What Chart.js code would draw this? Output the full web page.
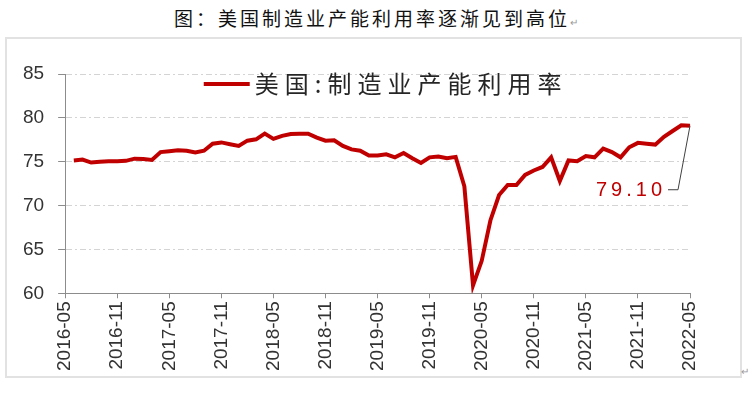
<!DOCTYPE html>
<html>
<head>
<meta charset="utf-8">
<script src="https://cdn.jsdelivr.net/npm/chart.js@4"></script>
<style>
  html, body { margin: 0; padding: 0; background: #fff; }
  body { width: 752px; height: 396px; position: relative; overflow: hidden; }
  #title { position: absolute; left: 0; top: 5px; width: 752px; text-align: center;
           font-family: "Noto Sans CJK SC"; font-size: 19px; letter-spacing: 3px; color: #111; line-height: 26px; }
  .ret { font-size: 10px; color: #999; letter-spacing: 0; }
  #frame { position: absolute; left: 5px; top: 37px; width: 733px; height: 337px; border: 2px solid #e2e2e2; }
  #ret2 { position: absolute; left: 741px; top: 366px; }
  #wrap { position: absolute; left: 0; top: 0; width: 752px; height: 396px; }
</style>
</head>
<body>
<div id="title">图：美国制造业产能利用率逐渐见到高位<span class="ret">↵</span></div>
<div id="frame"></div>
<span id="ret2" class="ret">↵</span>
<div id="wrap"><canvas id="chart" width="752" height="396"></canvas></div>
<script>
// monthly axis runs 2016-05 .. 2022-05, data starts 2016-06
const firstMonth = [2016, 5];
const lastMonth = [2022, 5];
const seriesName = '美国:制造业产能利用率';
// 2016-06 .. 2022-05
const utilization = [
  75.15, 75.25, 74.9, 75.0, 75.05, 75.05, 75.1, 75.35, 75.3, 75.2, 76.1, 76.2,
  76.3, 76.25, 76.05, 76.25, 77.05, 77.2, 77.0, 76.8, 77.4, 77.55, 78.2, 77.6,
  77.95, 78.15, 78.2, 78.2, 77.75, 77.4, 77.45, 76.8, 76.4, 76.25, 75.7, 75.7,
  75.85, 75.5, 76.0, 75.4, 74.85, 75.5, 75.6, 75.4, 75.55, 72.2, 60.9, 63.7,
  68.3, 71.2, 72.35, 72.35, 73.5, 74.0, 74.4, 75.5, 72.8, 75.15, 75.05, 75.65,
  75.5, 76.5, 76.1, 75.5, 76.65, 77.15, 77.05, 76.95, 77.85, 78.5, 79.15, 79.1
];
const yTicks = [60, 65, 70, 75, 80, 85];
const labelEvery = 6;

const months = [];
for (let y = firstMonth[0], m = firstMonth[1]; y < lastMonth[0] || (y === lastMonth[0] && m <= lastMonth[1]); ) {
  months.push(y + '-' + String(m).padStart(2, '0'));
  m++;
  if (m > 12) { m = 1; y++; }
}
const values = [null].concat(utilization);

const axisGray = '#8c8c8c';
const red = '#C00000';

// legend inside the plot + value callout on the last point
const overlay = {
  id: 'overlay',
  afterDatasetsDraw(chart) {
    const { ctx, chartArea } = chart;
    const ds = chart.data.datasets[0];
    ctx.save();

    ctx.font = '24px "Noto Sans CJK SC"';
    ctx.letterSpacing = '6px';
    const tw = ctx.measureText(ds.label).width;
    const total = 46 + 5 + tw;
    const x0 = (chartArea.left + chartArea.right) / 2 - total / 2 + 8;
    const y0 = chartArea.top + 10;
    ctx.strokeStyle = ds.borderColor;
    ctx.lineWidth = 4;
    ctx.beginPath();
    ctx.moveTo(x0, y0);
    ctx.lineTo(x0 + 46, y0);
    ctx.stroke();
    ctx.fillStyle = '#262626';
    ctx.textBaseline = 'middle';
    ctx.textAlign = 'left';
    ctx.fillText(ds.label, x0 + 51, y0);

    const meta = chart.getDatasetMeta(0);
    const pt = meta.data[meta.data.length - 1];
    const v = ds.data[ds.data.length - 1];
    const ly = pt.y + 64;
    ctx.strokeStyle = '#404040';
    ctx.lineWidth = 1;
    ctx.beginPath();
    ctx.moveTo(pt.x, pt.y);
    ctx.lineTo(pt.x - 12, ly);
    ctx.lineTo(pt.x - 22, ly);
    ctx.stroke();
    ctx.font = '20px "Liberation Sans"';
    ctx.letterSpacing = '4px';
    ctx.fillStyle = red;
    ctx.textAlign = 'right';
    ctx.fillText(v.toFixed(2), pt.x - 24, ly + 1);
    ctx.restore();
  }
};

new Chart(document.getElementById('chart').getContext('2d'), {
  type: 'line',
  data: {
    labels: months,
    datasets: [{
      label: seriesName,
      data: values,
      borderColor: red,
      backgroundColor: red,
      borderWidth: 4,
      pointRadius: 0,
      tension: 0,
      fill: false
    }]
  },
  options: {
    responsive: false,
    animation: false,
    layout: { padding: { left: 9, right: 62, top: 74, bottom: 22 } },
    plugins: {
      legend: { display: false },
      tooltip: { enabled: false }
    },
    scales: {
      x: {
        grid: {
          drawOnChartArea: false,
          tickLength: 5,
          tickColor: c => (c.index % labelEvery === 0 ? axisGray : 'rgba(0,0,0,0)')
        },
        border: { color: axisGray, width: 1 },
        ticks: {
          autoSkip: false,
          minRotation: 90,
          maxRotation: 90,
          padding: 3,
          color: '#333',
          font: { family: 'Liberation Sans', size: 19 },
          callback: (val, i) => (i % labelEvery === 0 ? months[i] : '')
        }
      },
      y: {
        min: 60,
        max: 85,
        afterBuildTicks: axis => { axis.ticks = yTicks.map(v => ({ value: v })); },
        grid: {
          color: c => (c.tick && c.tick.value === 60 ? 'rgba(0,0,0,0)' : '#d4d4d4'),
          tickColor: axisGray,
          tickLength: 7
        },
        border: { color: axisGray, width: 1, dash: [6, 3, 2, 3] },
        ticks: {
          padding: 14,
          color: '#333',
          font: { family: 'Liberation Sans', size: 19 }
        }
      }
    }
  },
  plugins: [overlay]
});
</script>
</body>
</html>
